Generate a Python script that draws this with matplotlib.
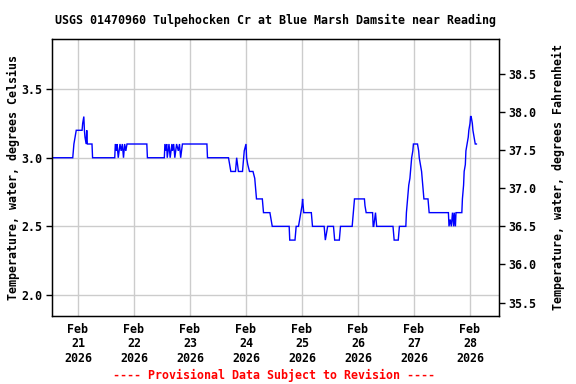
import matplotlib
matplotlib.use("Agg")
import matplotlib.pyplot as plt
import matplotlib.dates as mdates
from datetime import datetime, timedelta

TITLE = "USGS 01470960 Tulpehocken Cr at Blue Marsh Damsite near Reading"
YLABEL_L = "Temperature, water, degrees Celsius"
YLABEL_R = "Temperature, water, degrees Fahrenheit"
FOOTER = "---- Provisional Data Subject to Revision ----"

BASE = datetime(2026, 2, 21)
# hours since 2026-02-21 00:00
HOURS = [-11.0, -2.25, -2.0, -1.75, -1.25, -0.75, 1.75, 2.0, 2.5, 2.75, 3.0, 3.5, 3.75, 4.0, 6.0, 6.25,
         15.75, 16.0, 16.5, 16.75, 17.25, 18.0, 18.5, 19.0, 19.5, 20.0, 20.5, 21.0, 29.5, 29.75,
         37.0, 37.25, 37.75, 38.0, 38.25, 39.0, 39.5, 40.25, 40.5, 41.0, 41.5, 42.25, 43.0, 43.5, 44.0, 44.75,
         55.25, 55.5, 64.5, 65.0, 65.5, 67.5, 68.0, 68.75, 70.5, 71.0, 71.25, 72.0, 72.25, 72.75, 73.5,
         75.0, 75.75, 76.0, 76.25, 76.5, 79.0, 79.5, 82.25, 82.75, 83.25, 90.5, 90.75, 93.0, 93.25, 93.5,
         94.5, 95.0, 95.5, 96.0, 96.25, 96.5, 96.75, 100.0, 100.5, 105.5, 106.0, 107.0, 109.5, 110.0,
         112.0, 112.5, 117.5, 118.0, 118.5, 122.75, 123.0, 123.5, 126.25, 126.5, 126.75, 127.5, 127.75,
         128.0, 135.0, 135.5, 137.25, 137.75, 140.5, 140.75, 141.25, 141.75, 142.25, 142.5, 143.0, 143.5,
         143.75, 145.5, 146.0, 146.25, 146.75, 147.25, 147.5, 148.0, 148.25, 150.0, 150.5, 158.75, 159.0,
         159.5, 160.0, 160.5, 161.0, 161.25, 161.75, 162.0, 164.5, 164.75, 165.25, 165.5, 166.0, 166.25,
         166.75, 167.25, 167.5, 168.0, 168.25, 168.5, 169.0, 169.25, 169.75, 170.25, 170.75]
TEMP_C = [3.0, 3.0, 3.05, 3.1, 3.15, 3.2, 3.2, 3.25, 3.3, 3.2, 3.15, 3.1, 3.2, 3.1, 3.1, 3.0,
          3.0, 3.1, 3.05, 3.1, 3.0, 3.1, 3.05, 3.1, 3.0, 3.1, 3.05, 3.1, 3.1, 3.0,
          3.0, 3.1, 3.05, 3.1, 3.0, 3.1, 3.0, 3.1, 3.05, 3.1, 3.0, 3.1, 3.05, 3.1, 3.0, 3.1,
          3.1, 3.0, 3.0, 2.95, 2.9, 2.9, 3.0, 2.9, 2.9, 3.0, 3.05, 3.1, 3.0, 2.95, 2.9,
          2.9, 2.85, 2.8, 2.75, 2.7, 2.7, 2.6, 2.6, 2.55, 2.5, 2.5, 2.4, 2.4, 2.45, 2.5,
          2.5, 2.55, 2.6, 2.65, 2.7, 2.65, 2.6, 2.6, 2.5, 2.5, 2.4, 2.5, 2.5, 2.4,
          2.4, 2.5, 2.5, 2.6, 2.7, 2.7, 2.65, 2.6, 2.6, 2.5, 2.5, 2.6, 2.55,
          2.5, 2.5, 2.4, 2.4, 2.5, 2.5, 2.6, 2.7, 2.8, 2.85, 2.9, 3.0, 3.05,
          3.1, 3.1, 3.05, 3.0, 2.95, 2.9, 2.85, 2.75, 2.7, 2.7, 2.6, 2.6, 2.5,
          2.55, 2.5, 2.6, 2.5, 2.6, 2.5, 2.6, 2.6, 2.7, 2.8, 2.9, 2.95, 3.05,
          3.1, 3.15, 3.2, 3.25, 3.3, 3.3, 3.25, 3.2, 3.15, 3.1, 3.1]

TICK_DAYS = [21, 22, 23, 24, 25, 26, 27, 28]
TICK_LABELS = ["Feb\n21\n2026", "Feb\n22\n2026", "Feb\n23\n2026", "Feb\n24\n2026",
               "Feb\n25\n2026", "Feb\n26\n2026", "Feb\n27\n2026", "Feb\n28\n2026"]
YTICKS_C = [2.0, 2.5, 3.0, 3.5]
YTICKS_F = [35.5, 36.0, 36.5, 37.0, 37.5, 38.0, 38.5]
YLIM_C = (1.847, 3.865)
XLIM_H = (-11.14, 180.43)

FONT = "DejaVu Sans Mono"
FS = 8.4

times = [BASE + timedelta(hours=h) for h in HOURS]

fig = plt.figure(figsize=(5.76, 3.84), dpi=100)
ax = fig.add_axes([52/576, 1-316/384, (499-52)/576, (316-39)/384])
ax.plot(times, TEMP_C, color="#0000ff", lw=1.0, solid_joinstyle="miter")

ax.set_xlim(BASE + timedelta(hours=XLIM_H[0]), BASE + timedelta(hours=XLIM_H[1]))
ax.set_ylim(*YLIM_C)
ax.set_xticks([datetime(2026, 2, d) for d in TICK_DAYS])
ax.set_xticklabels(TICK_LABELS, fontfamily=FONT, fontweight="bold", fontsize=FS, linespacing=1.15)
ax.set_yticks(YTICKS_C)
ax.set_yticklabels([f"{v:.1f}" for v in YTICKS_C], fontfamily=FONT, fontweight="bold", fontsize=FS)
ax.grid(True, color="#cccccc", lw=1.0)
ax.set_axisbelow(True)
ax.tick_params(axis="x", length=0, pad=5)
ax.tick_params(axis="y", length=4, width=1, direction="out", pad=3)
for s in ax.spines.values():
    s.set_linewidth(1.0)
    s.set_color("black")
ax.set_ylabel(YLABEL_L, fontfamily=FONT, fontweight="bold", fontsize=FS, labelpad=1)

ax2 = ax.twinx()
ax2.set_ylim(YLIM_C[0]*1.8+32, YLIM_C[1]*1.8+32)
ax2.set_yticks(YTICKS_F)
ax2.set_yticklabels([f"{v:.1f}" for v in YTICKS_F], fontfamily=FONT, fontweight="bold", fontsize=FS)
ax2.tick_params(axis="y", length=4, width=1, direction="out", pad=3)
ax2.set_ylabel(YLABEL_R, fontfamily=FONT, fontweight="bold", fontsize=FS, labelpad=11)

ax.set_title(TITLE, fontfamily=FONT, fontweight="bold", fontsize=FS, pad=11)
fig.text(274/576, 1-375/384, FOOTER, color="red", ha="center", va="center",
         fontfamily=FONT, fontweight="bold", fontsize=FS)

fig.savefig("out.png", dpi=100, facecolor="white")
